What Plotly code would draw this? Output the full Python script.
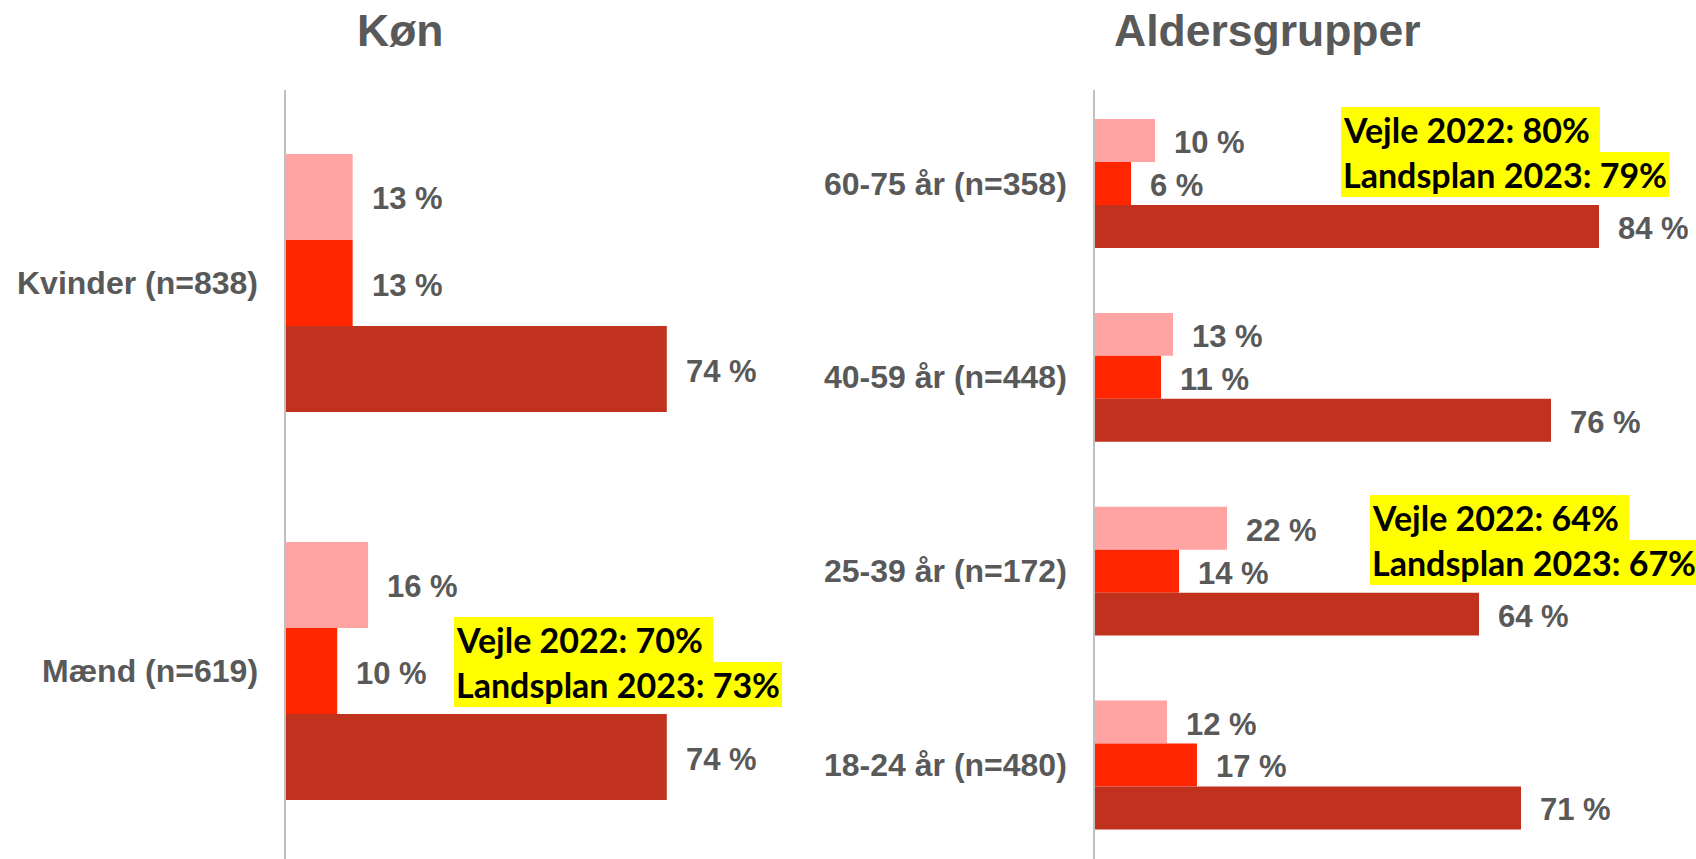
import plotly.graph_objects as go

# ---------------- data ----------------
kon_categories = ["Kvinder (n=838)", "Mænd (n=619)"]          # top -> bottom
kon_light = [13, 16]
kon_red = [13, 10]
kon_dark = [74, 74]

alder_categories = ["60-75 år (n=358)", "40-59 år (n=448)", "25-39 år (n=172)", "18-24 år (n=480)"]
alder_light = [10, 13, 22, 12]
alder_red = [6, 11, 14, 17]
alder_dark = [84, 76, 64, 71]

panel_titles = ["Køn", "Aldersgrupper"]

note_kon = ["Vejle 2022: 70%\u00a0", "Landsplan 2023: 73%"]
note_alder_top = ["Vejle 2022: 80%\u00a0", "Landsplan 2023: 79%"]
note_alder_mid = ["Vejle 2022: 64%\u00a0", "Landsplan 2023: 67%"]

# ---------------- style ----------------
W, H = 1696, 859
C_LIGHT, C_RED, C_DARK = "#FFA3A3", "#FF2600", "#C0321E"
GREY = "#595959"
FONT = "Liberation Sans, Arial, sans-serif"
NOTE_FONT = "Lato, Carlito, Calibri, sans-serif"
BW = 0.2217                       # bar thickness (category units)
OFFS = [BW / 2, -BW / 2, -1.5 * BW]  # light (top), red (middle), dark (bottom)
TOP_PX = 90

fig = go.Figure()


def add_panel(cats, series, xa, ya):
    n = len(cats)
    idx = [n - 1 - i for i in range(n)]
    for vals, col, off in zip(series, [C_LIGHT, C_RED, C_DARK], OFFS):
        fig.add_trace(go.Bar(
            x=vals, y=idx, orientation="h", width=BW, offset=off,
            marker=dict(color=col, line=dict(width=0)),
            xaxis=xa, yaxis=ya, showlegend=False, hoverinfo="x"))
        for v, yi in zip(vals, idx):
            fig.add_annotation(
                x=v, y=yi + off + BW / 2, xref=xa, yref=ya,
                text=f"{v} %", showarrow=False, xanchor="left", yanchor="middle",
                xshift=17, yshift=-2,
                font=dict(family=FONT, size=31, color=GREY, weight="bold"))
    for c, yi in zip(cats, idx):
        fig.add_annotation(
            x=0, y=yi, xref=xa, yref=ya, text=c, showarrow=False,
            xanchor="right", yanchor="middle", xshift=-26,
            font=dict(family=FONT, size=32, color=GREY, weight="bold"))


add_panel(kon_categories, [kon_light, kon_red, kon_dark], "x", "y")
add_panel(alder_categories, [alder_light, alder_red, alder_dark], "x2", "y2")

# titles
for t, xc in zip(panel_titles, [400, 1267]):
    fig.add_annotation(x=xc / W, y=1 - 30 / H, xref="paper", yref="paper", text=t,
                       showarrow=False, xanchor="center", yanchor="middle",
                       font=dict(family=FONT, size=44.5, color=GREY, weight="bold"))

# highlighted notes
def add_note(lines, x_px, y_centers):
    for ln, yc in zip(lines, y_centers):
        fig.add_annotation(x=x_px / W, y=1 - yc / H, xref="paper", yref="paper",
                           text=ln, showarrow=False, xanchor="left", yanchor="middle",
                           bgcolor="#FFFF00", borderpad=2, borderwidth=0,
                           font=dict(family=NOTE_FONT, size=34, color="black", weight="bold"))


add_note(note_kon, 454, [639, 684])
add_note(note_alder_top, 1341, [129, 174])
add_note(note_alder_mid, 1370, [517, 562])

ydom = [0, 1 - TOP_PX / H]
x0_left, ppu_left = 285.7, 5.15
x0_right, ppu_right = 1095.0, 6.0
fig.update_layout(
    width=W, height=H, margin=dict(l=0, r=0, t=0, b=0),
    paper_bgcolor="white", plot_bgcolor="white", barmode="overlay",
    xaxis=dict(domain=[x0_left / W, 1090 / W], range=[0, (1090 - x0_left) / ppu_left],
               visible=False, fixedrange=True),
    yaxis=dict(domain=ydom, anchor="x", range=[0 - (H - 671) / 388, 1 + (283 - TOP_PX) / 388],
               showline=True, linecolor="#BFBFBF", linewidth=2, showgrid=False,
               zeroline=False, showticklabels=False, ticks="", fixedrange=True),
    xaxis2=dict(domain=[x0_right / W, 1.0], range=[0, (W - x0_right) / ppu_right],
                visible=False, anchor="y2", fixedrange=True),
    yaxis2=dict(domain=ydom, anchor="x2", range=[0 - (H - 765) / 193.8, 3 + (183.5 - TOP_PX) / 193.8],
                showline=True, linecolor="#BFBFBF", linewidth=2, showgrid=False,
                zeroline=False, showticklabels=False, ticks="", fixedrange=True),
)

fig.write_html("out.html", config={"displayModeBar": False},
               post_script="document.body.style.margin='0';document.body.style.overflow='hidden';")
